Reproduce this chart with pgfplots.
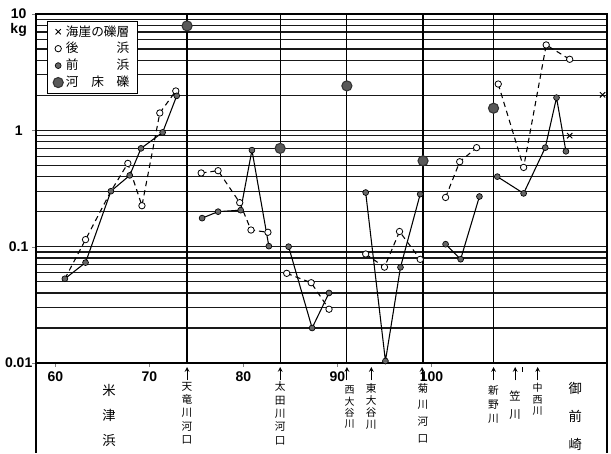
\documentclass[border=0pt]{standalone}
\usepackage{fontspec}
\setmainfont{Liberation Sans}
\newfontfamily\jp{Noto Sans CJK JP}
\usepackage{pgfplots}
\pgfplotsset{compat=1.18}
\pgfplotsset{
  maefill/.style={mark=*, mark size=2.2pt, mark options={solid, fill=black!60, draw=black, line width=0.5pt}},
  ushiro/.style={mark=*, mark size=2.4pt, mark options={solid, fill=white, draw=black, line width=0.6pt}},
  kasho/.style={mark=*, mark size=3.8pt, mark options={solid, fill=black!65, draw=black!80, line width=0.8pt}},
  gaiso/.style={mark=x, mark size=2.8pt, mark options={solid, black, line width=0.7pt}},
  solidl/.style={black, line width=0.8pt},
  dashl/.style={black, line width=0.8pt, dash pattern=on 4pt off 3pt},
}
\begin{document}
\begin{tikzpicture}
\begin{axis}[
  scale only axis, width=428.25pt, height=261.75pt,
  xmin=57.93, xmax=118.67, ymode=log, ymin=0.01, ymax=10,
  xtick={60,70,80,90,100}, ytick={0.01,0.1,1,10}, yticklabels={0.01,0.1,1,10},
  tick pos=left, tick align=outside, major tick length=3pt, minor tick length=0pt,
  ymajorgrids, yminorgrids,
  major grid style={black!90, line width=0.85pt},
  minor grid style={black!90, line width=0.85pt},
  axis line style={line width=0.9pt},
  /pgf/number format/assume math mode=true,
  ticklabel style={font=\bfseries\fontsize{10.5}{12}\selectfont},
  yticklabel style={anchor=center, xshift=-10pt},
  clip=false,
  legend style={at={(rel axis cs:0,1)}, anchor=north west, xshift=8pt, yshift=-5pt,
    draw=black, line width=0.7pt, fill=white, font=\jp\fontsize{9.5}{10}\selectfont,
    inner xsep=4.5pt, inner ysep=1.2pt, row sep=-0.8pt},
  legend cell align=left,
  legend image code/.code={\draw[#1] plot coordinates {(0.15cm,0cm)};},
]
\coordinate (SW) at (rel axis cs:0,0);
\coordinate (NE) at (rel axis cs:1,1);
\addlegendimage{only marks, gaiso}
\addlegendentry{海崖の礫層}
\addlegendimage{only marks, ushiro}
\addlegendentry{後\hspace{3em}浜}
\addlegendimage{only marks, maefill}
\addlegendentry{前\hspace{3em}浜}
\addlegendimage{only marks, kasho}
\addlegendentry{河\hspace{1em}床\hspace{1em}礫}

% vertical river-mouth lines
\foreach \xv in {74.0,83.9,91.0,99.1,106.6}{
  \edef\tmp{\noexpand\draw[black, line width=0.9pt] (axis cs:\xv,0.01) -- (axis cs:\xv,10);}\tmp
}

% 後浜 (dashed lines)
\addplot[dashl, forget plot] coordinates {(61,0.053) (63.2,0.115) (65.9,0.30) (67.7,0.52) (69.2,0.225) (71.1,1.41) (72.8,2.18)};
\addplot[dashl, forget plot] coordinates {(75.5,0.43) (77.3,0.45) (79.6,0.239) (80.8,0.139) (82.6,0.133)};
\addplot[dashl, forget plot] coordinates {(84.6,0.059) (87.2,0.049) (89.1,0.029)};
\addplot[dashl, forget plot] coordinates {(93.0,0.0865) (95.0,0.0667) (96.6,0.135) (98.8,0.0778)};
\addplot[dashl, forget plot] coordinates {(101.5,0.265) (103.0,0.537) (104.8,0.71)};
\addplot[dashl, forget plot] coordinates {(107.1,2.50) (109.8,0.48) (112.2,5.42) (114.7,4.08)};
\addplot[only marks, ushiro, forget plot] coordinates {(63.2,0.115) (67.7,0.52) (69.2,0.225) (71.1,1.41) (72.8,2.18)
  (75.5,0.43) (77.3,0.45) (79.6,0.239) (80.8,0.139) (82.6,0.133)
  (84.6,0.059) (87.2,0.049) (89.1,0.029)
  (93.0,0.0865) (95.0,0.0667) (96.6,0.135) (98.8,0.0778)
  (101.5,0.265) (103.0,0.537) (104.8,0.71)
  (107.1,2.50) (109.8,0.48) (112.2,5.42) (114.7,4.08)};

% 前浜 (solid lines)
\addplot[solidl, maefill, forget plot] coordinates {(61,0.053) (63.2,0.073) (65.9,0.30) (67.9,0.41) (69.1,0.70) (71.4,0.96) (72.9,1.98)};
\addplot[solidl, maefill, forget plot] coordinates {(75.6,0.176) (77.3,0.20) (79.7,0.206) (80.9,0.676) (82.7,0.101)};
\addplot[solidl, maefill, forget plot] coordinates {(84.8,0.10) (87.3,0.020) (89.1,0.040)};
\addplot[solidl, maefill, forget plot] coordinates {(93.0,0.292) (95.1,0.0104) (96.7,0.0665) (98.8,0.283)};
\addplot[solidl, maefill, forget plot] coordinates {(101.5,0.105) (103.1,0.078) (105.1,0.27)};
\addplot[solidl, maefill, forget plot] coordinates {(107.0,0.40) (109.8,0.287) (112.1,0.71) (113.3,1.91) (114.3,0.66)};

% 河床礫
\addplot[only marks, kasho, forget plot] coordinates {(74.0,7.9) (83.9,0.70) (91.0,2.41) (99.1,0.547) (106.6,1.55)};
% 海崖の礫層
\addplot[only marks, gaiso, forget plot] coordinates {(114.7,0.90) (118.2,2.02)};

% lower panel borders
\draw[line width=0.9pt] (rel axis cs:0,0) -- ++(0pt,-67.5pt);
\draw[line width=0.9pt] (rel axis cs:1,0) -- ++(0pt,-67.5pt);

% kg label
\node[anchor=center, inner sep=0, font=\bfseries\fontsize{10.5}{12}\selectfont] at ([xshift=-13pt,yshift=-12pt]rel axis cs:0,1) {kg};

% arrows and place names
\foreach \xv in {74.0,83.9,91.0,93.6,99.0,106.6,108.9,111.3}{
  \edef\tmp{\noexpand\draw[-stealth, line width=0.6pt] ([yshift=-13pt]axis cs:\xv,0.01) -- ([yshift=-3pt]axis cs:\xv,0.01);}\tmp
}
\draw[line width=0.5pt] ([yshift=-3pt]axis cs:109.7,0.01) -- ([yshift=-7pt]axis cs:109.7,0.01);

\node[anchor=north, inner sep=0, align=center, font=\jp\fontsize{10}{19}\selectfont] at ([yshift=-15.5pt]axis cs:65.7,0.01) {米\\津\\浜};
\node[anchor=north, inner sep=0, align=center, font=\jp\fontsize{8}{10}\selectfont] at ([yshift=-14pt]axis cs:74.0,0.01) {天\\竜\\川\\河\\口};
\node[anchor=north, inner sep=0, align=center, font=\jp\fontsize{8}{10}\selectfont] at ([yshift=-14pt]axis cs:83.9,0.01) {太\\田\\川\\河\\口};
\node[anchor=north, inner sep=0, align=center, font=\jp\fontsize{7.5}{8.5}\selectfont] at ([yshift=-17pt]axis cs:91.3,0.01) {西\\大\\谷\\川};
\node[anchor=north, inner sep=0, align=center, font=\jp\fontsize{8}{9}\selectfont] at ([yshift=-15pt]axis cs:93.6,0.01) {東\\大\\谷\\川};
\node[anchor=north, inner sep=0, align=center, font=\jp\fontsize{8}{12.5}\selectfont] at ([yshift=-15pt]axis cs:99.1,0.01) {菊\\川\\河\\口};
\node[anchor=north, inner sep=0, align=center, font=\jp\fontsize{8}{10.5}\selectfont] at ([yshift=-17pt]axis cs:106.6,0.01) {新\\野\\川};
\node[anchor=north, inner sep=0, align=center, font=\jp\fontsize{8.5}{13.5}\selectfont] at ([yshift=-21pt]axis cs:108.9,0.01) {笠\\川};
\node[anchor=north, inner sep=0, align=center, font=\jp\fontsize{7.5}{8.5}\selectfont] at ([yshift=-15pt]axis cs:111.3,0.01) {中\\西\\川};
\node[anchor=north, inner sep=0, align=center, font=\jp\fontsize{10}{21}\selectfont] at ([yshift=-14pt]axis cs:115.3,0.01) {御\\前\\崎};
\end{axis}
\pgfresetboundingbox
\path ([shift={(-27pt,-67.5pt)}]SW) rectangle ([shift={(3pt,10.5pt)}]NE);
\end{tikzpicture}
\end{document}
